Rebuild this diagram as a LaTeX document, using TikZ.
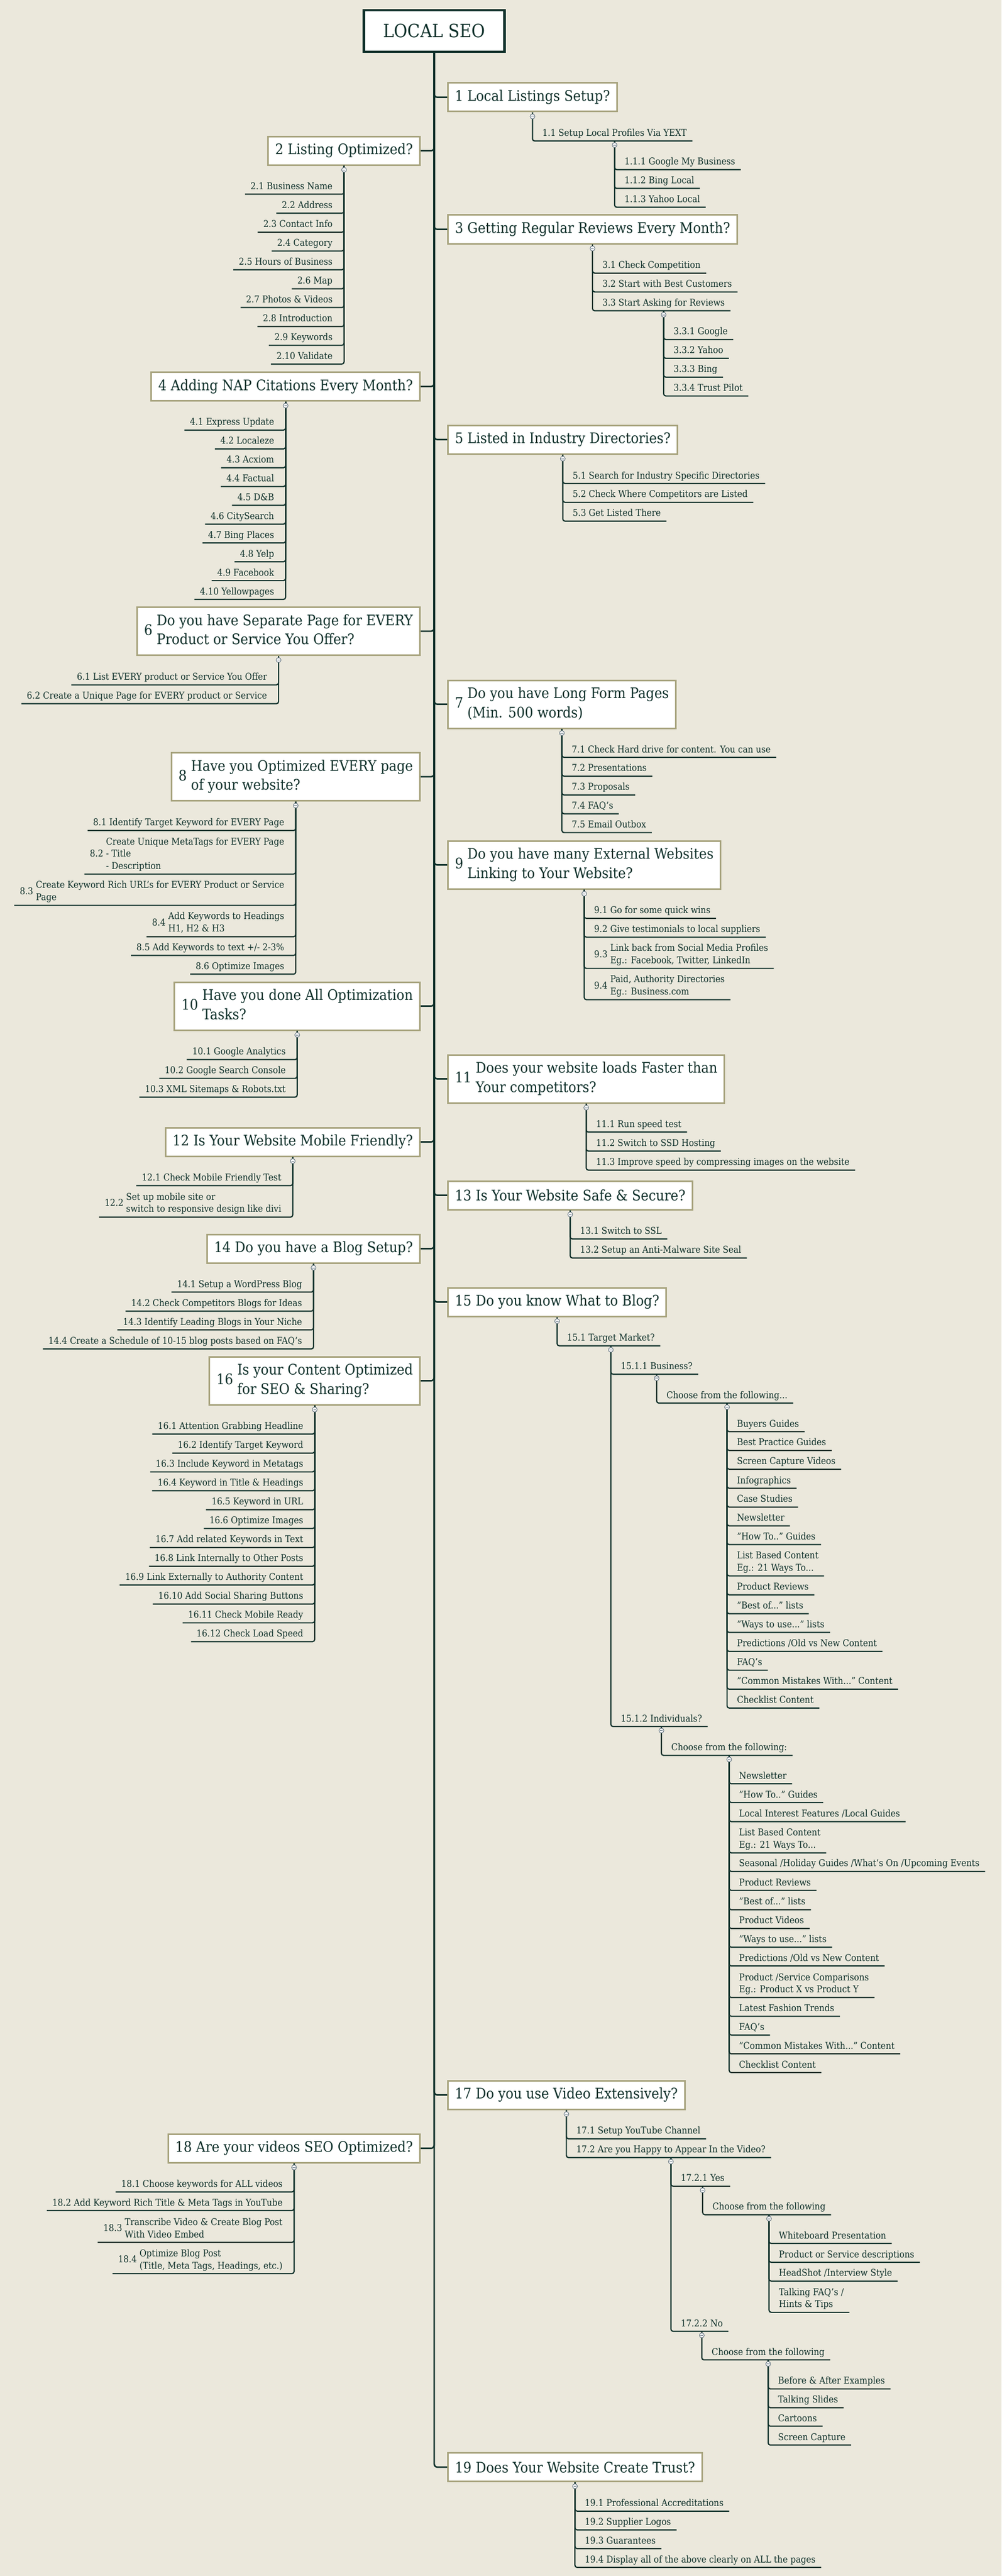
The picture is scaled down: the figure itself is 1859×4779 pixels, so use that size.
\documentclass[tikz,border=0pt]{standalone}
\usepackage{fontspec}
\setmainfont{DejaVu Serif}[FakeStretch=0.9]
\usetikzlibrary{calc,positioning}

\definecolor{paper}{RGB}{235,232,220}
\definecolor{ink}{RGB}{13,47,41}
\definecolor{olive}{RGB}{167,163,125}
\definecolor{knobgrey}{RGB}{95,112,125}

\tikzset{
  rootbox/.style={draw=ink, line width=2.4pt, fill=white, text=ink,
    font=\fontsize{17}{20}\selectfont, minimum width=130.5pt, minimum height=38.5pt},
  topic/.style={draw=olive, line width=1.5pt, fill=white, text=ink,
    font=\fontsize{13.5}{17.8}\selectfont, inner xsep=6.5pt, minimum height=26.5pt},
  ttall/.style={topic, minimum height=44.5pt},
  entry/.style={inner sep=0pt, text=ink, font=\fontsize{8.7}{11.4}\selectfont},
  trunk/.style={draw=ink, line width=1.4pt, rounded corners=3pt},
  twig/.style={draw=ink, line width=1.1pt, rounded corners=2pt},
  knob/.style={circle, draw=knobgrey, fill=white, line width=0.5pt, inner sep=0pt,
    minimum size=4.5pt, path picture={\draw[knobgrey, line width=0.5pt]
      ([xshift=-1.3pt]path picture bounding box.center) --
      ([xshift=1.3pt]path picture bounding box.center);}}
}

%% two line question: number, then a block of two lines
\newcommand{\twoq}[3]{#1 \begin{tabular}{@{}l@{}}#2\\#3\end{tabular}}
%% numbered entries on two / three lines, underline under the last one
\newcommand{\twol}[3]{\raisebox{5.7pt}{#1} \begin{tabular}[b]{@{}l@{}}#2\\#3\end{tabular}}
\newcommand{\threel}[4]{\raisebox{11.4pt}{#1} \begin{tabular}[b]{@{}l@{}}#2\\#3\\#4\end{tabular}}
\newcommand{\twob}[2]{\begin{tabular}[b]{@{}l@{}}#1\\#2\end{tabular}}

%% entries hanging to the right of a parent point: #1 parent, #2 prefix, #3 y/text
\newcommand{\rlist}[3]{%
  \foreach \y/\txt [count=\i] in {#3}{%
    \coordinate (yy) at (0,\y);
    \node[entry, anchor=base west] (#2-\i) at ($(#1 |- yy)+(18,-9)$) {\txt};
    \draw[twig] (#1) |- ($(#2-\i.base east)+(10,9)$);
  }%
  \node[knob] at ($(#1)+(0,7.5)$) {};%
}
%% entries hanging to the left of a parent point
\newcommand{\llist}[3]{%
  \foreach \y/\txt [count=\i] in {#3}{%
    \coordinate (yy) at (0,\y);
    \node[entry, anchor=base east] (#2-\i) at ($(#1 |- yy)+(-21,-9)$) {\txt};
    \draw[twig] (#1) |- ($(#2-\i.base west)+(-10,9)$);
  }%
  \node[knob] at ($(#1)+(0,7.5)$) {};%
}

\begin{document}
\begin{tikzpicture}[x=0.5pt, y=-0.5pt]

%% Page and background
\path[use as bounding box, fill=paper] (0,0) rectangle (1859,4779);

%% Root
\node[rootbox] (root) at (806,57.5) {LOCAL SEO};

%% Questions right of the trunk
\node[topic, anchor=west] (t1) at (830,180.5) {1 Local Listings Setup?};
\node[topic, anchor=west] (t3) at (830,425.5) {3 Getting Regular Reviews Every Month?};
\node[topic, anchor=west] (t5) at (830,815.5) {5 Listed in Industry Directories?};
\node[ttall, anchor=west] (t7) at (830,1306.5) {\twoq{7}{Do you have Long Form Pages}{(Min. 500 words)}};
\node[ttall, anchor=west] (t9) at (830,1604.6) {\twoq{9}{Do you have many External Websites}{Linking to Your Website?}};
\node[ttall, anchor=west] (t11) at (830,2001.5) {\twoq{11}{Does your website loads Faster than}{Your competitors?}};
\node[topic, anchor=west] (t13) at (830,2217.5) {13 Is Your Website Safe \& Secure?};
\node[topic, anchor=west] (t15) at (830,2415.5) {15 Do you know What to Blog?};
\node[topic, anchor=west] (t17) at (830,3886.5) {17 Do you use Video Extensively?};
\node[topic, anchor=west] (t19) at (830,4577) {19 Does Your Website Create Trust?};

%% Questions left of the trunk
\node[topic, anchor=east] (t2) at (781,279.6) {2 Listing Optimized?};
\node[topic, anchor=east] (t4) at (781,717) {4 Adding NAP Citations Every Month?};
\node[ttall, anchor=east] (t6) at (781,1171) {\twoq{6}{Do you have Separate Page for EVERY}{Product or Service You Offer?}};
\node[ttall, anchor=east] (t8) at (781,1441) {\twoq{8}{Have you Optimized EVERY page}{of your website?}};
\node[ttall, anchor=east] (t10) at (781,1866.5) {\twoq{10}{Have you done All Optimization}{Tasks?}};
\node[topic, anchor=east] (t12) at (781,2118.5) {12 Is Your Website Mobile Friendly?};
\node[topic, anchor=east] (t14) at (781,2316.5) {14 Do you have a Blog Setup?};
\node[ttall, anchor=east] (t16) at (781,2561.5) {\twoq{16}{Is your Content Optimized}{for SEO \& Sharing?}};
\node[topic, anchor=east] (t18) at (781,3985.5) {18 Are your videos SEO Optimized?};

%% Trunk from the root to every question
\foreach \t in {1,3,5,7,9,11,13,15,17,19}
  \draw[trunk] (root.south) |- (t\t.west);
\foreach \t in {2,4,...,18}
  \draw[trunk] (root.south) |- (t\t.east);

%% 1
\rlist{t1.south}{l1}{261.6/{1.1 Setup Local Profiles Via YEXT}}
\coordinate (u1-1) at ($(l1-1.base)+(0,9)$);
\rlist{u1-1}{l11}{314.7/{1.1.1 Google My Business}, 349.6/{1.1.2 Bing Local}, 384.5/{1.1.3 Yahoo Local}}

%% 2
\llist{t2.south}{l2}{360.3/{2.1 Business Name}, 395.5/{2.2 Address}, 430.8/{2.3 Contact Info},
  465.6/{2.4 Category}, 500.4/{2.5 Hours of Business}, 535.7/{2.6 Map}, 570.5/{2.7 Photos \& Videos},
  605.8/{2.8 Introduction}, 640.6/{2.9 Keywords}, 675.4/{2.10 Validate}}

%% 3
\rlist{t3.south}{l3}{506.7/{3.1 Check Competition}, 541.6/{3.2 Start with Best Customers},
  576.5/{3.3 Start Asking for Reviews}}
\coordinate (u3-3) at ($(l3-3.base)+(0,9)$);
\rlist{u3-3}{l33}{629.9/{3.3.1 Google}, 664.8/{3.3.2 Yahoo}, 699.7/{3.3.3 Bing}, 734.6/{3.3.4 Trust Pilot}}

%% 4
\llist{t4.south}{l4}{797.9/{4.1 Express Update}, 832.8/{4.2 Localeze}, 867.7/{4.3 Acxiom},
  902.6/{4.4 Factual}, 937.5/{4.5 D\&B}, 972.4/{4.6 CitySearch}, 1007.3/{4.7 Bing Places},
  1042.2/{4.8 Yelp}, 1077.1/{4.9 Facebook}, 1112/{4.10 Yellowpages}}

%% 5
\rlist{t5.south}{l5}{897/{5.1 Search for Industry Specific Directories},
  931.9/{5.2 Check Where Competitors are Listed}, 966.8/{5.3 Get Listed There}}

%% 6
\llist{t6.south}{l6}{1270.6/{6.1 List EVERY product or Service You Offer},
  1305.5/{6.2 Create a Unique Page for EVERY product or Service}}

%% 7
\rlist{t7.south}{l7}{1405/{7.1 Check Hard drive for content. You can use}, 1439.9/{7.2 Presentations},
  1474.8/{7.3 Proposals}, 1509.7/{7.4 FAQ's}, 1544.6/{7.5 Email Outbox}}

%% 8
\llist{t8.south}{l8}{1540.8/{8.1 Identify Target Keyword for EVERY Page},
  1621.6/{\threel{8.2}{Create Unique MetaTags for EVERY Page}{- Title}{- Description}},
  1679.6/{\twol{8.3}{Create Keyword Rich URL's for EVERY Product or Service}{Page}},
  1737.7/{\twol{8.4}{Add Keywords to Headings}{H1, H2 \& H3}},
  1772.5/{8.5 Add Keywords to text +/- 2-3\%}, 1807.3/{8.6 Optimize Images}}

%% 9
\rlist{t9.south}{l9}{1703.8/{9.1 Go for some quick wins}, 1738.6/{9.2 Give testimonials to local suppliers},
  1796.6/{\twol{9.3}{Link back from Social Media Profiles}{Eg.: Facebook, Twitter, LinkedIn}},
  1854.6/{\twol{9.4}{Paid, Authority Directories}{Eg.: Business.com}}}

%% 10
\llist{t10.south}{l10}{1965.8/{10.1 Google Analytics}, 2000.6/{10.2 Google Search Console},
  2035.4/{10.3 XML Sitemaps \& Robots.txt}}

%% 11
\rlist{t11.south}{l11x}{2100.3/{11.1 Run speed test}, 2135.5/{11.2 Switch to SSD Hosting},
  2170.8/{11.3 Improve speed by compressing images on the website}}

%% 12
\llist{t12.south}{l12}{2199.4/{12.1 Check Mobile Friendly Test},
  2257.9/{\twol{12.2}{Set up mobile site or}{switch to responsive design like divi}}}

%% 13
\rlist{t13.south}{l13}{2298.5/{13.1 Switch to SSL}, 2333.8/{13.2 Setup an Anti-Malware Site Seal}}

%% 14
\llist{t14.south}{l14}{2397/{14.1 Setup a WordPress Blog}, 2432.4/{14.2 Check Competitors Blogs for Ideas},
  2467.2/{14.3 Identify Leading Blogs in Your Niche},
  2502.5/{14.4 Create a Schedule of 10-15 blog posts based on FAQ's}}

%% 15
\rlist{t15.south}{l15}{2496.7/{15.1 Target Market?}}
\coordinate (u15-1) at ($(l15-1.base)+(0,9)$);
\rlist{u15-1}{l151}{2549.4/{15.1.1 Business?}, 3203/{15.1.2 Individuals?}}
\coordinate (u151-1) at ($(l151-1.base)+(0,9)$);
\rlist{u151-1}{l1511}{2603/{Choose from the following...}}
\coordinate (u1511-1) at ($(l1511-1.base)+(0,9)$);
\rlist{u1511-1}{l15111}{2656/{Buyers Guides}, 2690.9/{Best Practice Guides}, 2725.7/{Screen Capture Videos},
  2761/{Infographics}, 2795.9/{Case Studies}, 2830.7/{Newsletter}, 2865.5/{"How To.." Guides},
  2923.6/{\twob{List Based Content}{Eg.: 21 Ways To...}}, 2958.8/{Product Reviews},
  2993.7/{"Best of..." lists}, 3028.5/{"Ways to use..." lists}, 3063.8/{Predictions /Old vs New Content},
  3098.6/{FAQ's}, 3133.8/{"Common Mistakes With..." Content}, 3168.7/{Checklist Content}}
\coordinate (u151-2) at ($(l151-2.base)+(0,9)$);
\rlist{u151-2}{l1512}{3256.6/{Choose from the following:}}
\coordinate (u1512-1) at ($(l1512-1.base)+(0,9)$);
\rlist{u1512-1}{l15121}{3309.3/{Newsletter}, 3344/{"How To.." Guides},
  3379.4/{Local Interest Features /Local Guides}, 3437.5/{\twob{List Based Content}{Eg.: 21 Ways To...}},
  3471.9/{Seasonal /Holiday Guides /What's On /Upcoming Events}, 3507/{Product Reviews},
  3542.9/{"Best of..." lists}, 3577.7/{Product Videos}, 3612.5/{"Ways to use..." lists},
  3647.3/{Predictions /Old vs New Content},
  3705.8/{\twob{Product /Service Comparisons}{Eg.: Product X vs Product Y}},
  3740.6/{Latest Fashion Trends}, 3775.4/{FAQ's}, 3810.3/{"Common Mistakes With..." Content},
  3845/{Checklist Content}}

%% 16
\llist{t16.south}{l16}{2660.5/{16.1 Attention Grabbing Headline}, 2695.8/{16.2 Identify Target Keyword},
  2730.6/{16.3 Include Keyword in Metatags}, 2765.5/{16.4 Keyword in Title \& Headings},
  2800.8/{16.5 Keyword in URL}, 2835.6/{16.6 Optimize Images}, 2870.9/{16.7 Add related Keywords in Text},
  2905.7/{16.8 Link Internally to Other Posts}, 2940.5/{16.9 Link Externally to Authority Content},
  2975.8/{16.10 Add Social Sharing Buttons}, 3010.6/{16.11 Check Mobile Ready},
  3045.4/{16.12 Check Load Speed}}

%% 17
\rlist{t17.south}{l17}{3967.9/{17.1 Setup YouTube Channel}, 4002.7/{17.2 Are you Happy to Appear In the Video?}}
\coordinate (u17-2) at ($(l17-2.base)+(0,9)$);
\rlist{u17-2}{l172}{4055.8/{17.2.1 Yes}, 4325/{17.2.2 No}}
\coordinate (u172-1) at ($(l172-1.base)+(0,9)$);
\rlist{u172-1}{l1721}{4108.6/{Choose from the following}}
\coordinate (u1721-1) at ($(l1721-1.base)+(0,9)$);
\rlist{u1721-1}{l17211}{4162/{Whiteboard Presentation}, 4197/{Product or Service descriptions},
  4231.8/{HeadShot /Interview Style}, 4289.8/{\twob{Talking FAQ's /}{Hints \& Tips}}}
\coordinate (u172-2) at ($(l172-2.base)+(0,9)$);
\rlist{u172-2}{l1722}{4378/{Choose from the following}}
\coordinate (u1722-1) at ($(l1722-1.base)+(0,9)$);
\rlist{u1722-1}{l17221}{4431.8/{Before \& After Examples}, 4466.6/{Talking Slides}, 4501/{Cartoons},
  4536/{Screen Capture}}

%% 18
\llist{t18.south}{l18}{4066.5/{18.1 Choose keywords for ALL videos},
  4101/{18.2 Add Keyword Rich Title \& Meta Tags in YouTube},
  4160/{\twol{18.3}{Transcribe Video \& Create Blog Post}{With Video Embed}},
  4218/{\twol{18.4}{Optimize Blog Post}{(Title, Meta Tags, Headings, etc.)}}}

%% 19
\rlist{t19.south}{l19}{4658.6/{19.1 Professional Accreditations}, 4693.4/{19.2 Supplier Logos},
  4728.2/{19.3 Guarantees}, 4763/{19.4 Display all of the above clearly on ALL the pages}}

\end{tikzpicture}
\end{document}
